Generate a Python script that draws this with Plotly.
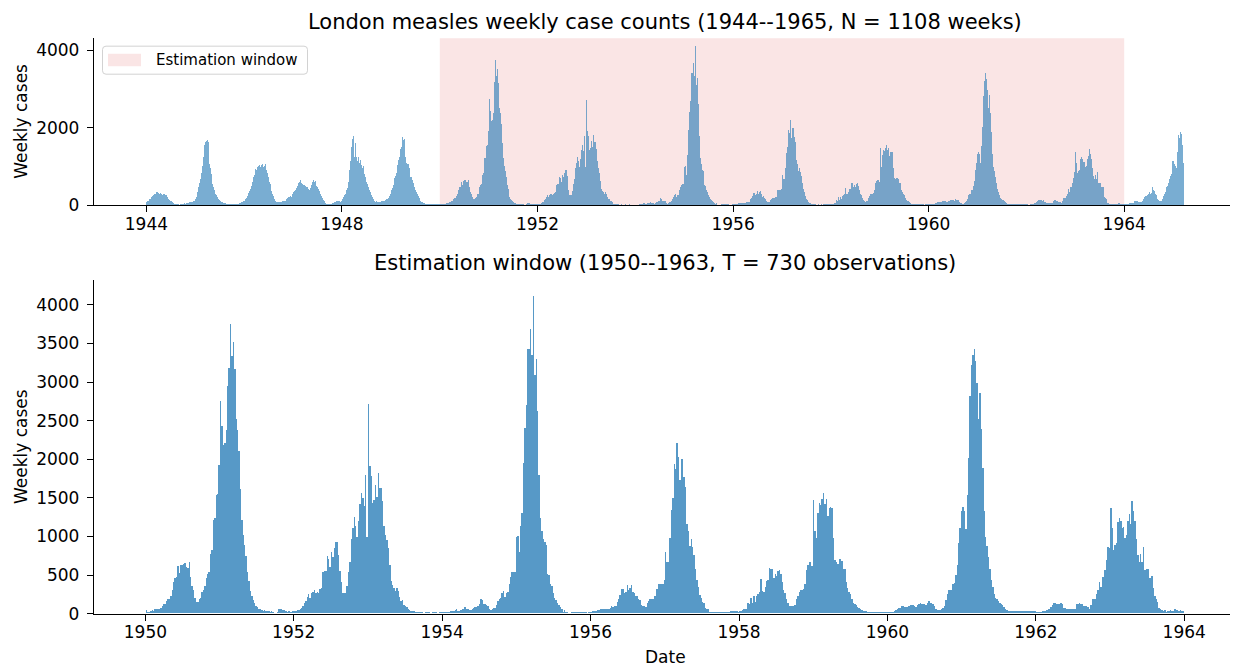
import pandas as pd
import plotly.graph_objects as go

# ---------------- data: weekly case counts, one list per calendar year ----------------
y1944 = [80,100,120,150,170,200,210,230,250,280,300,330,350,
         320,300,310,290,270,280,290,270,250,230,200,170,140,
         100,100,80,50,30,25,20,20,20,15,20,20,25,
         30,40,45,40,50,60,55,70,80,75,90,110,120,
         150]
y1945 = [200,250,330,460,560,680,820,1000,1250,1550,1640,1660,1690,
         1640,1070,950,810,620,550,460,400,300,250,200,160,130,
         110,90,70,60,50,45,40,30,25,25,30,25,20,
         25,25,30,25,35,40,40,50,55,60,80,90,110]
y1946 = [120,150,180,240,320,360,420,500,600,720,770,940,850,
         900,980,1000,1040,980,1040,1070,990,1000,1070,900,820,720,
         600,550,420,370,280,240,160,120,90,70,70,75,80,
         90,100,100,110,120,130,150,180,220,220,240,210,300]
y1947 = [330,370,400,450,500,560,600,640,590,560,540,520,530,
         490,470,460,420,380,440,530,600,650,590,620,560,500,
         460,420,370,300,240,180,140,100,60,40,30,25,25,
         30,35,40,50,60,70,90,100,110,110,100,90,100]
y1948 = [170,200,250,280,300,400,450,600,900,1150,1500,1700,1780,
         1250,1600,1240,1150,1250,1100,1150,1160,1050,950,1000,800,720,
         600,550,460,400,330,270,200,150,120,110,95,100,90,
         85,90,95,100,110,120,110,130,150,170,190,230,270]
y1949 = [300,380,450,520,700,760,830,1050,1160,1240,1450,1500,1750,
         1680,1700,1550,1240,1100,1070,1060,950,720,730,650,560,470,
         400,330,290,240,180,140,110,80,70,55,50,40,40,
         35,30,30,25,25,25,20,20,25,25,30,30,35,
         40]
y1950 = [40,20,20,30,40,35,60,55,60,50,70,90,115,
         120,160,180,190,230,300,400,460,470,610,520,630,620,
         640,650,600,590,660,470,350,300,200,150,150,190,200,
         280,300,360,460,510,540,770,820,1210,1230,1530,1550,1920]
y1951 = [2750,2430,2180,2200,2380,2940,3180,3750,3330,3510,3160,2510,2370,
         2100,1610,1210,1010,880,740,530,420,290,220,170,130,100,
         80,60,50,40,30,40,35,25,30,20,25,15,10,
         10,20,60,50,60,40,40,25,20,30,20,20,25]
y1952 = [30,30,40,40,50,70,90,130,160,210,250,200,260,
         280,300,270,280,270,320,330,530,550,550,740,710,600,
         790,730,840,920,920,750,550,400,270,270,270,360,540,
         670,960,1100,1250,1130,990,1200,1420,1560,1490,1390,1790,990]
y1953 = [2715,1910,1780,1430,1470,1660,1500,1820,1620,1620,1450,1130,1020,
         950,840,620,420,370,330,290,330,290,210,160,170,110,
         100,80,60,40,30,25,25,20,20,15,15,20,15,
         10,15,20,15,15,10,15,20,15,15,10,15,17]
y1954 = [17,15,15,17,20,20,25,25,30,45,50,35,30,
         45,60,60,80,60,50,45,40,60,70,80,80,100,
         120,180,170,120,115,110,100,60,40,50,70,70,110,
         160,190,200,270,290,210,260,275,385,470,530,540,540,
         990]
y1955 = [1000,790,1130,1300,1950,2400,2700,3420,3420,3680,3340,4110,3090,
         3290,2620,1790,1230,1070,960,920,890,510,500,380,350,270,
         200,170,130,110,80,60,20,45,20,15,10,10,15,
         20,20,20,20,20,20,20,20,15,15,10,15,20]
y1956 = [20,25,25,30,40,45,50,55,60,60,55,60,60,
         70,100,80,90,90,150,190,240,310,310,270,280,370,
         300,330,370,280,260,220,230,180,170,110,90,90,85,
         130,160,190,190,190,220,220,310,385,385,385,385,430]
y1957 = [790,670,670,970,1340,1490,1940,1870,2210,2030,1730,2000,2000,
         1770,1630,1160,1060,870,960,860,750,580,430,335,240,200,
         150,140,75,50,50,20,20,20,20,20,15,15,20,
         15,15,15,20,15,20,20,25,25,30,30,25,20]
y1958 = [30,30,40,50,60,60,140,115,200,135,220,150,225,
         250,280,440,290,280,340,420,430,590,580,580,460,510,
         480,550,560,505,400,300,260,190,130,100,90,90,100,
         110,180,230,280,300,300,320,385,560,620,660,660,610]
y1959 = [1470,1070,980,1300,1430,1400,1480,1555,1415,1475,1260,1360,1380,
         1360,970,690,665,640,710,700,680,580,580,400,330,280,
         250,180,134,117,104,82,75,60,40,30,25,25,20,
         20,20,18,20,18,20,18,20,15,20,18,20,20,
         20]
y1960 = [20,20,20,20,30,40,50,65,75,90,90,80,80,
         85,100,105,105,105,90,85,105,120,135,125,125,125,
         105,130,155,135,135,125,90,55,45,40,40,50,70,
         100,170,250,300,300,300,385,395,495,625,905,1100,1320]
y1961 = [1380,1320,1090,1530,2010,2810,3210,3350,3420,3270,2980,2520,2850,
         2390,1880,1320,990,870,730,580,430,340,255,205,190,160,
         135,125,105,80,60,40,35,30,30,30,30,30,30,
         30,30,35,30,30,30,30,30,30,30,35,30,30]
y1962 = [20,17,17,17,25,25,25,40,50,60,80,105,135,
         135,125,125,115,135,125,75,75,60,50,60,60,60,
         60,60,115,125,135,115,115,90,90,90,80,60,105,
         180,180,180,245,300,405,340,470,470,560,690,860,850]
y1963 = [1360,1100,820,890,910,1180,1240,1190,1110,1120,980,1010,1200,
         1280,1160,1450,1330,1190,960,750,670,770,670,860,560,580,
         580,460,460,480,330,220,180,150,65,60,40,30,40,
         20,30,30,40,30,35,50,40,45,30,40,35,30]
y1964 = [20,20,20,25,35,50,50,50,50,50,60,110,120,
         120,100,90,80,80,90,120,150,210,230,240,250,300,
         300,350,290,310,480,400,370,300,250,160,140,110,100,
         100,150,200,240,280,350,460,500,560,670,760,800,1150,
         1150]
y1965 = [1060,1000,960,1370,1600,1800,1740,1890,1850,1560,1080]

start_date = "1944-01-01"
window_start = "1950-01-01"
window_end = "1963-12-31"
top_ticks = [1944, 1948, 1952, 1956, 1960, 1964]
bottom_ticks = [1950, 1952, 1954, 1956, 1958, 1960, 1962, 1964]
top_yticks = [0, 2000, 4000]
bottom_yticks = [0, 500, 1000, 1500, 2000, 2500, 3000, 3500, 4000]

years = [y1944, y1945, y1946, y1947, y1948, y1949, y1950, y1951, y1952, y1953,
         y1954, y1955, y1956, y1957, y1958, y1959, y1960, y1961, y1962, y1963,
         y1964, y1965]
cases = [v for yr in years for v in yr]
dates = pd.date_range(start_date, periods=len(cases), freq="7D")
s = pd.Series(cases, index=dates)
win = s[(s.index >= window_start) & (s.index <= window_end)]

# ---------------- layout helpers ----------------
# page body has an 8px margin; the captured view is slightly taller than 666 px
OFF = 8
SY = 0.984
W = 1238 - 2 * OFF
H = int(round(666 / SY - OFF))
FONT = "DejaVu Sans"
def px(x):
    return (x - OFF) / W
def py(y):
    return 1 - (y / SY - OFF) / H

WEEK_MS = 7 * 24 * 3600 * 1000
AX_L, AX_R = 94, 1236            # axis extent in target pixels
AX_R_VIS = W + OFF               # right-most visible pixel of the figure

def xrange_for(idx):
    lo = idx[0] - pd.Timedelta(days=3.5)
    hi = idx[-1] + pd.Timedelta(days=3.5)
    pad = (hi - lo) * 0.05
    lo, hi = lo - pad, hi + pad
    hi_vis = lo + (hi - lo) * ((AX_R_VIS - AX_L) / (AX_R - AX_L))
    return [lo, hi_vis]

fig = go.Figure()
fig.add_trace(go.Bar(x=s.index, y=s.values, width=WEEK_MS,
                     marker=dict(color="rgba(31,119,180,0.6)", line=dict(width=0)),
                     xaxis="x", yaxis="y", showlegend=False, hoverinfo="x+y"))
fig.add_trace(go.Bar(x=win.index, y=win.values, width=WEEK_MS,
                     marker=dict(color="rgba(31,119,180,0.75)", line=dict(width=0)),
                     xaxis="x2", yaxis="y2", showlegend=False, hoverinfo="x+y"))

tick_font = dict(family=FONT, size=17, color="black")
common_x = dict(type="date", showgrid=False, zeroline=False, showline=True,
                linecolor="black", linewidth=1.3, ticks="outside", ticklen=6,
                tickwidth=1.3, tickcolor="black", tickfont=tick_font, tickmode="array",
                ticklabelstandoff=-3)
common_y = dict(showgrid=False, zeroline=False, showline=True, linecolor="black",
                linewidth=1.3, ticks="outside", ticklen=6, tickwidth=1.3,
                tickcolor="black", tickfont=tick_font, tickmode="array",
                ticklabelstandoff=4)

ymax = max(cases) * 1.05
ymax2 = max(win.values) * 1.05

fig.update_layout(
    width=W, height=H,
    margin=dict(l=0, r=0, t=0, b=0),
    paper_bgcolor="white", plot_bgcolor="white",
    bargap=0, barmode="overlay",
    font=dict(family=FONT, color="black"),
    xaxis=dict(common_x, domain=[px(AX_L), 1.0], anchor="y",
               range=xrange_for(s.index),
               tickvals=[f"{y}-01-01" for y in top_ticks],
               ticktext=[str(y) for y in top_ticks]),
    yaxis=dict(common_y, domain=[py(205), py(38)], anchor="x",
               range=[0, ymax], tickvals=top_yticks,
               ticktext=[str(v) for v in top_yticks]),
    xaxis2=dict(common_x, domain=[px(AX_L), 1.0], anchor="y2",
                range=xrange_for(win.index),
                tickvals=[f"{y}-01-01" for y in bottom_ticks],
                ticktext=[str(y) for y in bottom_ticks]),
    yaxis2=dict(common_y, domain=[py(613), py(280)], anchor="x2",
                range=[0, ymax2], tickvals=bottom_yticks,
                ticktext=[str(v) for v in bottom_yticks]),
)

# estimation window shading in top panel
SHADE = "rgba(214,39,40,0.12)"
fig.add_shape(type="rect", xref="x", yref="y domain", x0=window_start, x1="1964-01-01",
              y0=0, y1=1, fillcolor=SHADE, line=dict(width=0), layer="below")

# manual legend (matplotlib style)
def rounded_rect(x0, y0, x1, y1, r):
    X0, X1 = px(x0), px(x1)
    Y0, Y1 = py(y0), py(y1)
    rx, ry = r / W, r / H
    return (f"M {X0+rx},{Y0} L {X1-rx},{Y0} Q {X1},{Y0} {X1},{Y0-ry} "
            f"L {X1},{Y1+ry} Q {X1},{Y1} {X1-rx},{Y1} L {X0+rx},{Y1} "
            f"Q {X0},{Y1} {X0},{Y1+ry} L {X0},{Y0-ry} Q {X0},{Y0} {X0+rx},{Y0} Z")

fig.add_shape(type="path", xref="paper", yref="paper",
              path=rounded_rect(102.5, 46, 307.5, 74, 3.5),
              fillcolor="rgba(255,255,255,0.8)", line=dict(color="rgb(210,210,210)", width=1),
              layer="above")
fig.add_shape(type="rect", xref="paper", yref="paper",
              x0=px(108), x1=px(141), y0=py(66), y1=py(53.5),
              fillcolor=SHADE, line=dict(width=0), layer="above")

ann = []
ann.append(dict(text="Estimation window", x=px(153.5), y=py(60), xref="paper", yref="paper",
                xanchor="left", yanchor="middle", showarrow=False,
                font=dict(family=FONT, size=15, color="black")))
ann.append(dict(text="London measles weekly case counts (1944--1965, N = 1108 weeks)",
                x=px(665), y=py(22), xref="paper", yref="paper", xanchor="center",
                yanchor="middle", showarrow=False, font=dict(family=FONT, size=21, color="black")))
ann.append(dict(text="Estimation window (1950--1963, T = 730 observations)",
                x=px(665), y=py(263), xref="paper", yref="paper", xanchor="center",
                yanchor="middle", showarrow=False, font=dict(family=FONT, size=21, color="black")))
ann.append(dict(text="Weekly cases", x=px(21), y=py(121.5), xref="paper", yref="paper",
                xanchor="center", yanchor="middle", textangle=-90, showarrow=False,
                font=dict(family=FONT, size=17, color="black")))
ann.append(dict(text="Weekly cases", x=px(21), y=py(446.5), xref="paper", yref="paper",
                xanchor="center", yanchor="middle", textangle=-90, showarrow=False,
                font=dict(family=FONT, size=17, color="black")))
ann.append(dict(text="Date", x=px(665), y=py(656), xref="paper", yref="paper",
                xanchor="center", yanchor="middle", showarrow=False,
                font=dict(family=FONT, size=17, color="black")))
fig.update_layout(annotations=ann)

fig.write_html("out.html")
